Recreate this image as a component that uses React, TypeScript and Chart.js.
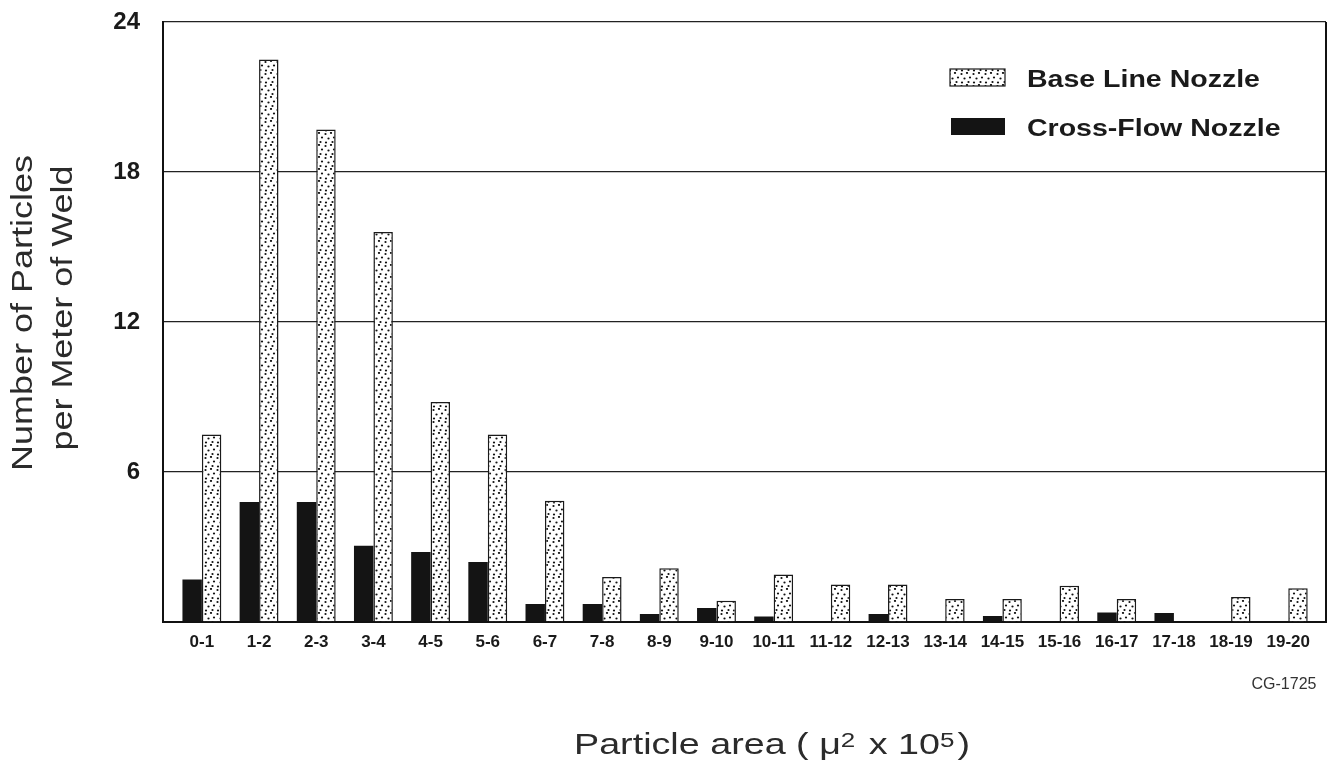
import { useEffect, useRef } from 'react';
import { Chart, registerables } from 'chart.js';

Chart.register(...registerables);

// ---- data ----
const categories = ['0-1', '1-2', '2-3', '3-4', '4-5', '5-6', '6-7', '7-8', '8-9', '9-10', '10-11', '11-12', '12-13', '13-14', '14-15', '15-16', '16-17', '17-18', '18-19', '19-20'];
const baseLine = [7.5, 22.5, 19.7, 15.6, 8.8, 7.5, 4.85, 1.8, 2.15, 0.85, 1.9, 1.5, 1.5, 0.92, 0.92, 1.45, 0.92, 0, 1.0, 1.35];
const crossFlow = [1.7, 4.8, 4.8, 3.05, 2.8, 2.4, 0.72, 0.72, 0.32, 0.56, 0.22, 0, 0.32, 0, 0.24, 0, 0.38, 0.36, 0, 0];
const yTickValues = [6, 12, 18, 24];
const seriesLabels = ['Base Line Nozzle', 'Cross-Flow Nozzle'];
const yTitleLines = ['Number of Particles', 'per Meter of Weld'];
const xTitleParts = [
  { text: 'Particle area ( \u03bc', sup: false },
  { text: '2', sup: true },
  { text: ' x 10', sup: false },
  { text: '5', sup: true },
  { text: ')', sup: false },
];
const figureId = 'CG-1725';

const FONT = '"Liberation Sans", Arial, Helvetica, sans-serif';
const STRETCH = 1.24;

function makeDotPattern(ctx: CanvasRenderingContext2D) {
  const tile = document.createElement('canvas');
  tile.width = 12;
  tile.height = 12;
  const t = tile.getContext('2d')!;
  t.fillStyle = '#ffffff';
  t.fillRect(0, 0, 12, 12);
  t.fillStyle = '#111111';
  const dots = [[1.5, 2], [7, 1], [4.5, 6.5], [10, 5.5], [2, 10.5], [8.5, 10]];
  dots.forEach(([x, y]) => {
    t.beginPath();
    t.arc(x, y, 1.1, 0, Math.PI * 2);
    t.fill();
  });
  return ctx.createPattern(tile, 'repeat')!;
}

function textStretched(ctx: CanvasRenderingContext2D, text: string, x: number, y: number, font: string, color: string, align: CanvasTextAlign = 'left', rotate = 0, stretch = STRETCH) {
  ctx.save();
  ctx.font = font;
  ctx.fillStyle = color;
  ctx.textAlign = align;
  ctx.textBaseline = 'alphabetic';
  ctx.translate(x, y);
  if (rotate) ctx.rotate(rotate);
  ctx.scale(stretch, 1);
  ctx.fillText(text, 0, 0);
  ctx.restore();
}

const decorPlugin = {
  id: 'decor',
  afterDraw(chart: any) {
    const ctx: CanvasRenderingContext2D = chart.ctx;
    const ca = chart.chartArea;
    // right frame line
    ctx.save();
    ctx.strokeStyle = '#111';
    ctx.lineWidth = 2;
    ctx.beginPath();
    ctx.moveTo(ca.right, ca.top);
    ctx.lineTo(ca.right, ca.bottom);
    ctx.stroke();
    ctx.restore();

    // legend (Base Line first, then Cross-Flow)
    const ds = chart.data.datasets;
    const order = [1, 0];
    const sw = [
      { x: 950, y: 69, w: 55, h: 17, ty: 87 },
      { x: 951, y: 118, w: 54, h: 17, ty: 136 },
    ];
    order.forEach((di, k) => {
      const d = ds[di];
      const s = sw[k];
      ctx.save();
      ctx.fillStyle = d.backgroundColor;
      ctx.fillRect(s.x, s.y, s.w, s.h);
      if (d.borderWidth) {
        ctx.strokeStyle = '#1a1a1a';
        ctx.lineWidth = 1.2;
        ctx.strokeRect(s.x, s.y, s.w, s.h);
      }
      ctx.restore();
      textStretched(ctx, d.label, 1027, s.ty, `bold 23px ${FONT}`, '#1a1a1a');
    });

    // y title (two rotated lines)
    textStretched(ctx, yTitleLines[0], 32, 313, `29px ${FONT}`, '#2b2b2b', 'center', -Math.PI / 2);
    textStretched(ctx, yTitleLines[1], 72, 308, `29px ${FONT}`, '#2b2b2b', 'center', -Math.PI / 2);

    // x title with superscripts
    const xStretch = 1.3;
    let x = 574;
    const base = 754;
    xTitleParts.forEach((p) => {
      const font = p.sup ? `20px ${FONT}` : `29px ${FONT}`;
      ctx.save();
      ctx.font = font;
      const w = ctx.measureText(p.text).width * xStretch;
      ctx.restore();
      textStretched(ctx, p.text, x, p.sup ? base - 7 : base, font, '#2b2b2b', 'left', 0, xStretch);
      x += w + (p.sup ? 3 : 0);
    });

    // figure id
    ctx.save();
    ctx.font = `16px ${FONT}`;
    ctx.fillStyle = '#333';
    ctx.textAlign = 'center';
    ctx.textBaseline = 'alphabetic';
    ctx.fillText(figureId, 1284, 689);
    ctx.restore();
  },
};

export default function App() {
  const ref = useRef<HTMLCanvasElement>(null);
  useEffect(() => {
    const canvas = ref.current!;
    const pattern = makeDotPattern(canvas.getContext('2d')!);
    const chart = new Chart(canvas, {
      type: 'bar',
      data: {
        datasets: [
          {
            label: seriesLabels[1],
            data: crossFlow.map((y, i) => ({ x: i, y })),
            backgroundColor: '#141414',
            borderWidth: 0,
            categoryPercentage: 0.68,
            barPercentage: 1,
          },
          {
            label: seriesLabels[0],
            data: baseLine.map((y, i) => ({ x: i, y })),
            backgroundColor: pattern as any,
            borderColor: '#1a1a1a',
            borderWidth: 1.5,
            categoryPercentage: 0.68,
            barPercentage: 1,
          },
        ] as any,
      },
      options: {
        responsive: false,
        devicePixelRatio: 1,
        animation: false,
        layout: { padding: { top: 22, right: 12, left: 0, bottom: 0 } },
        plugins: { legend: { display: false }, tooltip: { enabled: false } },
        scales: {
          x: {
            type: 'linear',
            min: -0.68,
            max: 19.66,
            offset: false,
            grid: { display: false, drawTicks: false },
            border: { display: true, color: '#111', width: 2 },
            ticks: {
              color: '#1a1a1a',
              font: { family: FONT, size: 17, weight: 'bold' },
              padding: 10,
              maxRotation: 0,
              autoSkip: false,
              callback: (v: any) => categories[v] ?? '',
            },
            afterBuildTicks: (s: any) => {
              s.ticks = categories.map((_, i) => ({ value: i }));
            },
            afterFit: (s: any) => {
              s.height = 139;
              s.paddingLeft = 0;
              s.paddingRight = 0;
            },
          },
          y: {
            min: 0,
            max: 24,
            grid: { color: '#222', lineWidth: 1.3, drawTicks: false },
            border: { display: true, color: '#111', width: 2 },
            ticks: {
              stepSize: 6,
              color: '#1a1a1a',
              font: { family: FONT, size: 24, weight: 'bold' },
              padding: 23,
              callback: (v: any) => (yTickValues.includes(v) ? String(v) : ''),
            },
            afterFit: (s: any) => {
              s.width = 163;
              s.paddingTop = 0;
              s.paddingBottom = 0;
            },
          },
        } as any,
      },
      plugins: [decorPlugin],
    });
    return () => chart.destroy();
  }, []);
  return (
    <div style={{ position: 'fixed', left: 0, top: 0, width: 1338, height: 761, background: '#fff' }}>
      <canvas ref={ref} width={1338} height={761} style={{ display: 'block' }} />
    </div>
  );
}
